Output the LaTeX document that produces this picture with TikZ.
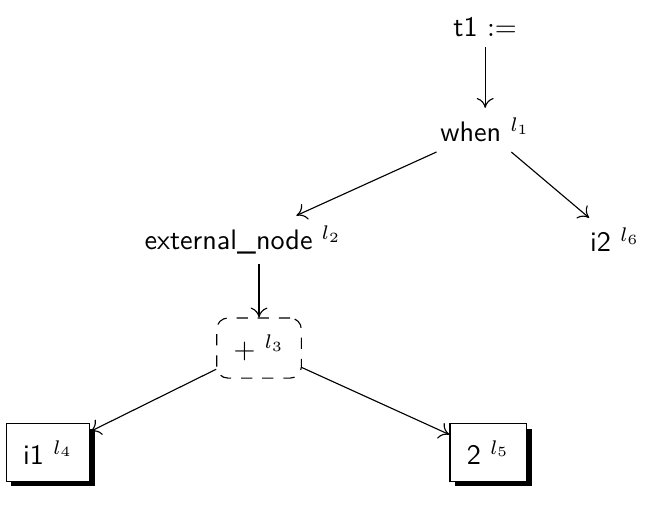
\documentclass[tikz,border=0pt]{standalone}
\usepackage{tikz}
\usetikzlibrary{
    arrows.meta,
    positioning,
    shadows
}
\tikzset{
    >={To[length=3.5pt, width=6pt]},
    every node/.style={font=\sffamily},
    hole/.style={draw, dash pattern=on 4pt off 3.5pt, rounded corners=4pt, inner sep=6pt},
    leaf/.style={draw, fill=white, inner sep=6pt,
        drop shadow={shadow xshift=1.8pt, shadow yshift=-1.8pt, fill=black, opacity=1}},
}

\begin{document}
\begin{tikzpicture}[on grid,auto]
       \useasboundingbox (-6.05,0.34) rectangle (2.13,-5.95);
       \node (t1) {t1 $:=$};
       \node (when) [below=1.28cm of t1] {when $^{l_1}$};
       \node (ext) [below left=1.37cm and 3.02cm of when] {external\_node $^{l_2}$};
       \node (i2) [below right=1.37cm and 1.62cm of when] {i2 $^{l_6}$};
       \node[hole] (plus) [below right=1.35cm and 0.2cm of ext] {$+$ $^{l_3}$};
       \node[leaf] (i1) [below left=1.3cm and 2.63cm of plus] {i1 $^{l_4}$};
       \node[leaf] (two) [below right=1.3cm and 2.86cm of plus] {2 $^{l_5}$};
        \path[->]
        (t1) edge (when)
        (when) edge (ext)
        (when) edge (i2)
        (plus |- ext.south) edge (plus)
        (plus) edge (i1)
        (plus) edge (two);
      \end{tikzpicture}
\end{document}
